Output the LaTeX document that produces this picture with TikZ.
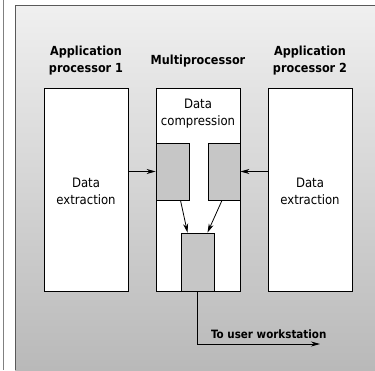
\documentclass[tikz,border=0pt]{standalone}
\usepackage{fontspec}
\setmainfont{DejaVu Sans Condensed}
\usetikzlibrary{arrows.meta}
\begin{document}
\begin{tikzpicture}[x=1pt,y=-1pt,
  every node/.style={font=\fontsize{13}{17}\selectfont, align=center, inner sep=0pt},
  whitebox/.style={draw, line width=0.9pt, fill=white, minimum width=84pt, minimum height=203pt},
  graybox/.style={draw, line width=0.8pt, fill=gray!45},
  title/.style={font=\fontsize{12.5}{17}\selectfont\bfseries},
  arr/.style={line width=0.8pt, -{Stealth[length=9pt,width=5pt]}}]
\useasboundingbox (0,0) rectangle (375,370);
\shade[top color=gray!12, bottom color=gray!55] (15,5) rectangle (375,370);
\draw[gray, line width=0.8pt] (3,0) -- (3,370);
\draw[gray!70!black, line width=0.8pt] (15,370) -- (15,5) -- (375,5);
% titles
\node[title] (t1) at (86,61) {Application\\processor 1};
\node[title] (t2) at (198,61) {Multiprocessor};
\node[title] (t3) at (310,61) {Application\\processor 2};
% boxes
\node[whitebox] (ap1) at (86,189.5) {};
\node[whitebox] (mp) at (198,189.5) {};
\node[whitebox] (ap2) at (310,189.5) {};
\node (dc) at (198,114) {Data\\compression};
\node (de1) at (86,191) {Data\\extraction};
\node (de2) at (310,191) {Data\\extraction};
% gray boxes
\node[graybox, minimum width=33pt, minimum height=57pt] (gl) at (172.5,171.5) {};
\node[graybox, minimum width=32pt, minimum height=57pt] (gr) at (224,171.5) {};
\node[graybox, minimum width=33pt, minimum height=58pt] (gb) at (197.5,262) {};
% arrows
\draw[arr] (gl.west -| ap1.east) -- (gl.west);
\draw[arr] (gr.east -| ap2.west) -- (gr.east);
\draw[arr] ([xshift=8pt]gl.south) -- ([xshift=-10pt]gb.north);
\draw[arr] ([xshift=-2pt]gr.south) -- ([xshift=10pt]gb.north);
\coordinate (out) at (320,344);
\draw[arr] (gb.south) -- (gb.south |- out) -- (out);
\node[title, anchor=south west, font=\fontsize{11.5}{14}\selectfont\bfseries] (lbl) at (211,339) {To user workstation};
\end{tikzpicture}
\end{document}
